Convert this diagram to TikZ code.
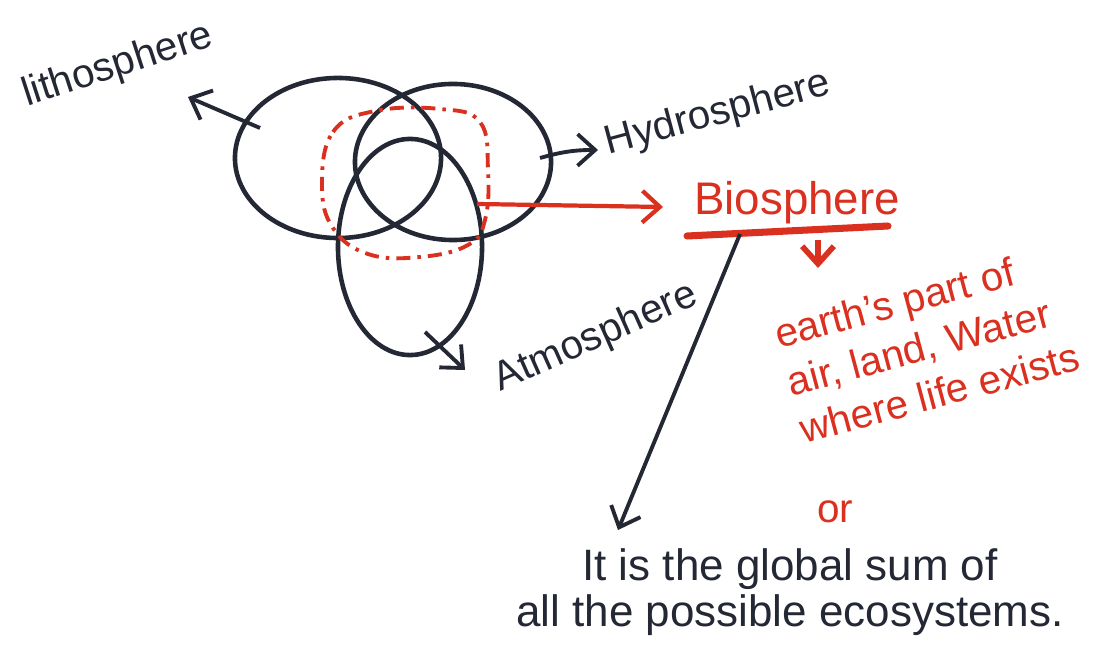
\documentclass[tikz,border=0pt]{standalone}
\usepackage{fontspec}
\setmainfont{Liberation Sans}
\usetikzlibrary{positioning, arrows.meta, shapes.geometric}
\definecolor{penBlack}{RGB}{35,40,52}
\definecolor{penRed}{RGB}{218,48,32}

\begin{document}
\begin{tikzpicture}[x=0.01cm, y=-0.01cm,
    sphere/.style={draw=penBlack, ellipse, line width=1.3pt, inner sep=0pt},
    pen/.style={draw=penBlack, line width=1.1pt, -{Straight Barb[length=5pt,width=9pt]}},
    redpen/.style={draw=penRed, line width=1.2pt, -{Straight Barb[length=5pt,width=9pt]}},
    tag/.style={text=penBlack, font=\fontsize{11.5}{13}\selectfont, inner sep=1pt},
    redtag/.style={text=penRed, font=\fontsize{11.5}{14}\selectfont, inner sep=1pt}]
  \useasboundingbox (0,0) rectangle (1101,655);
  % the three spheres
  \node[sphere, minimum width=2.06cm, minimum height=1.60cm] (litho) at (338,158) {};
  \node[sphere, minimum width=1.96cm, minimum height=1.56cm] (hydro) at (453,162) {};
  \node[sphere, minimum width=1.44cm, minimum height=2.16cm] (atmo) at (410,247) {};
  % biosphere zone (dash dot)
  \draw[penRed, line width=1.1pt, dash pattern=on 4pt off 2pt on 1pt off 2pt]
    plot[smooth cycle, tension=0.7] coordinates {(322,185) (333,132) (375,111) (440,109)
      (480,122) (488,170) (485,220) (468,245) (420,257) (368,254) (333,228)};
  \coordinate (bioEdge) at (477,204);
  % labels
  \node[tag, rotate=18] (lithoTag) at (118,66) {lithosphere};
  \node[tag, rotate=15] (hydroTag) at (718,114) {Hydrosphere};
  \node[tag, rotate=24] (atmoTag) at (596,338) {Atmosphere};
  \node[redtag, font=\fontsize{13}{15}\selectfont] (bioTag) at (797,203) {Biosphere};
  \coordinate (ulLeft) at (687,236);
  \coordinate (ulRight) at (888,226);
  \coordinate (ulFoot) at (740,234);
  \node[redtag, rotate=15, align=left] (bioDef) at (927,345)
    {earth's part of\\air, land, Water\\where life exists};
  \node[redtag] (orTag) at (835,512) {or};
  \node[tag, align=center, font=\fontsize{12.5}{13}\selectfont] (sumTag) at (790,592)
    {It is the global sum of\\all the possible ecosystems.};
  % pointers
  \coordinate (lithoIn) at (260,128);
  \coordinate (lithoTip) at (188,97);
  \coordinate (hydroIn) at (540,158);
  \coordinate (hydroTip) at (598,150);
  \coordinate (atmoIn) at (425,332);
  \coordinate (atmoTip) at (465,370);
  \coordinate (bioTip) at (663,207);
  \coordinate (defTop) at (818,240);
  \coordinate (defTip) at (818,268);
  \coordinate (sumTip) at (618,530);
  \draw[pen] (lithoIn) -- (lithoTip);
  \draw[pen] (hydroIn) to[bend left=8] (hydroTip);
  \draw[pen] (atmoIn) -- (atmoTip);
  \draw[redpen] (bioEdge) -- (bioTip);
  \draw[penRed, line width=2pt, line cap=round] (ulLeft) -- (ulRight);
  \draw[redpen, line width=1.6pt] (defTop) -- (defTip);
  \draw[pen] (ulFoot) -- (sumTip);
\end{tikzpicture}
\end{document}
